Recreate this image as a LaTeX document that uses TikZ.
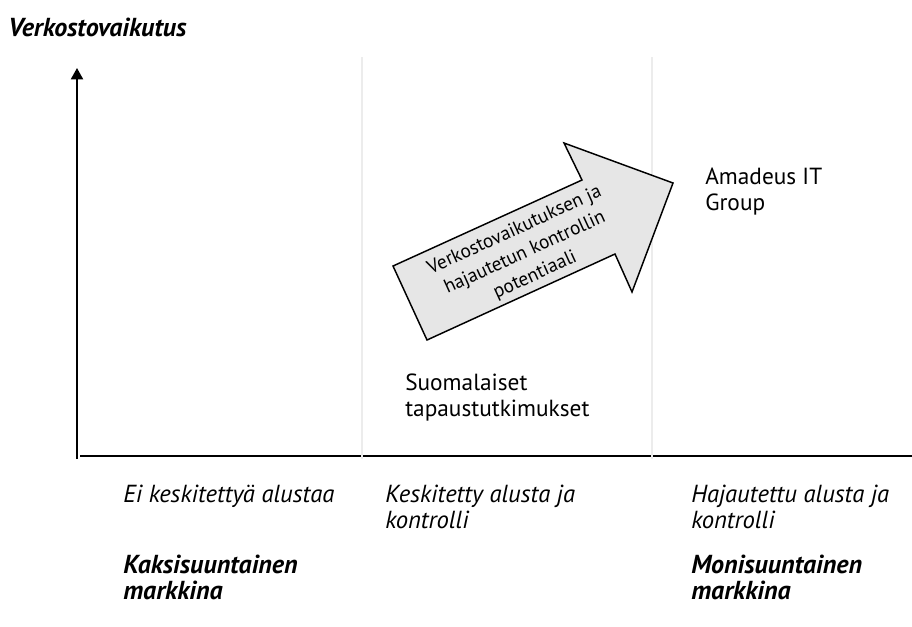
\documentclass[tikz,border=0pt]{standalone}
\usepackage{fontspec}
\setmainfont{PT Sans}
\usetikzlibrary{arrows.meta}
\definecolor{dividergray}{RGB}{236,236,236}
\definecolor{arrowgray}{RGB}{230,230,230}
% text styles, sizes in pt (1px = 0.75pt)
% multi-line nodes sit on the baseline of their last line
\tikzset{
	plaintext/.style={anchor=base west, inner sep=0pt, align=left,
		font=\fontsize{17.5}{19.5}\selectfont},
	italictext/.style={plaintext, font=\fontsize{18.5}{19.5}\selectfont\itshape},
	boldtext/.style={plaintext, font=\fontsize{19.5}{19.5}\selectfont\bfseries\itshape},
	axis/.style={line width=1.5pt},
	divider/.style={dividergray, line width=0.8pt}
}

\begin{document}
\begin{tikzpicture}[x=0.75pt, y=-0.75pt]
	% picture size: 912 x 626 px
	\useasboundingbox (0,0) rectangle (912,626);
	% axes
	\coordinate (origin) at (77,459);
	\coordinate (ytip) at (77,68);
	\coordinate (xstart) at (80,456);
	\coordinate (xend) at (912,456);
	\draw[axis, -{Triangle[width=9pt, length=8.5pt]}] (origin) -- (ytip);
	\draw[axis] (xstart) -- (xend);
	% column dividers
	\coordinate (divAtop) at (362,57);
	\coordinate (divAbot) at (362,459);
	\coordinate (divBtop) at (652,57);
	\coordinate (divBbot) at (652,459);
	\draw[divider] (divAtop) -- (divAbot);
	\draw[divider] (divBtop) -- (divBbot);
	% big block arrow
	\draw[fill=arrowgray, line width=1.1pt, line join=miter]
		(393,266) -- (582,180) -- (564,143) -- (673,183) -- (632,292)
		-- (615,254) -- (427,340) -- cycle;
	\node[align=center, rotate=24.5, inner sep=0pt, font=\fontsize{14.5}{18.5}\selectfont]
		(potential) at (525,253)
		{Verkostovaikutuksen ja\\hajautetun kontrollin\\potentiaali};
	% axis title
	\node[boldtext] (ytitle) at (8,36) {Verkostovaikutus};
	% cases
	\node[plaintext] (amadeus) at (705,210) {Amadeus IT\\Group};
	\node[plaintext] (finnish) at (405,416) {Suomalaiset\\tapaustutkimukset};
	% column captions
	\node[italictext] (colA) at (123,502) {Ei keskitettyä alustaa};
	\node[italictext] (colB) at (385,528) {Keskitetty alusta ja\\kontrolli};
	\node[italictext] (colC) at (691,528) {Hajautettu alusta ja\\kontrolli};
	% market types
	\node[boldtext] (twoside) at (123,599) {Kaksisuuntainen\\markkina};
	\node[boldtext] (multiside) at (691,599) {Monisuuntainen\\markkina};
\end{tikzpicture}
\end{document}
